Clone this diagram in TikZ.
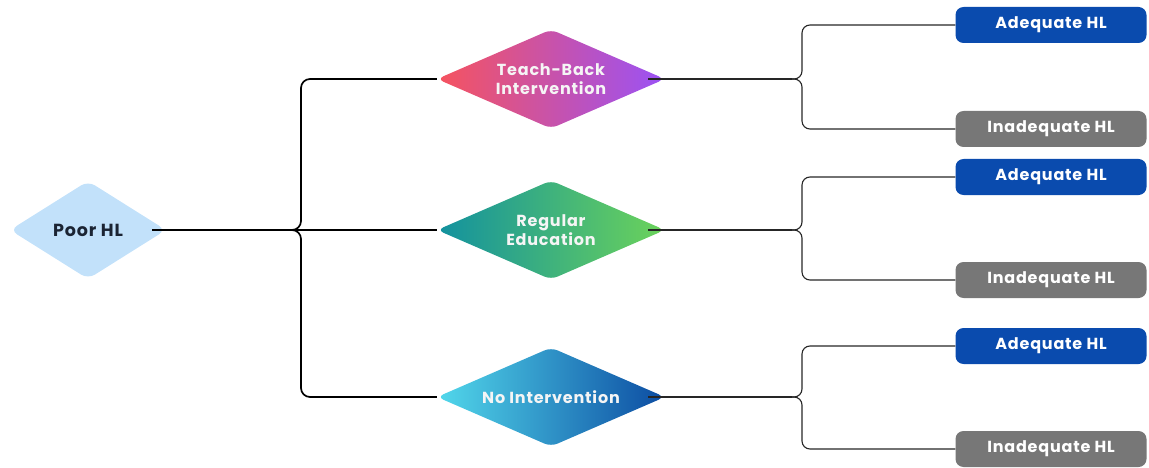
\documentclass[tikz,border=0pt]{standalone}
\usepackage{fontspec}
\setmainfont{Poppins}[LetterSpace=5]
\usetikzlibrary{shapes.geometric,calc}
\definecolor{poorfill}{HTML}{C2E1FA}
\definecolor{poortext}{HTML}{1B2433}
\definecolor{adeq}{HTML}{0A4BAE}
\definecolor{inadeq}{HTML}{777777}
\definecolor{tbL}{HTML}{F6535E}
\definecolor{tbR}{HTML}{9A52F6}
\definecolor{reL}{HTML}{12919F}
\definecolor{reR}{HTML}{6CD35A}
\definecolor{niL}{HTML}{52D8EB}
\definecolor{niR}{HTML}{0C4CA2}
\begin{document}
\begin{tikzpicture}[x=1pt,y=-1pt,
  dia/.style={diamond, aspect=2.3, rounded corners=7pt, inner sep=0pt, minimum width=228pt, minimum height=99pt,
    align=center, font=\bfseries\fontsize{16}{18.5}\selectfont, text=white!96!black},
  outbox/.style={rectangle, rounded corners=8pt, inner sep=0pt, minimum width=191pt, minimum height=36pt,
    font=\bfseries\fontsize{16}{18}\selectfont, text=white},
  mainconn/.style={line width=1.7pt, black, rounded corners=9pt},
  subconn/.style={line width=1.1pt, black!85, rounded corners=8pt}]
\useasboundingbox (0,0) rectangle (1149,468);

% root
\node[diamond, aspect=1.6, rounded corners=8pt, inner sep=0pt, minimum width=156pt, minimum height=98pt,
  fill=poorfill, text=poortext, font=\bfseries\fontsize{17.5}{20}\selectfont] (p) at (88,230) {Poor HL};

% interventions
\node[dia, left color=tbL, right color=tbR] (tb) at (551,79) {Teach-Back\\Intervention};
\node[dia, left color=reL, right color=reR] (re) at (551,230) {Regular\\Education};
\node[dia, left color=niL, right color=niR] (ni) at (551,397) {No Intervention};

% outcomes
\node[outbox, fill=adeq]   (a1) at (1051,25)  {Adequate HL};
\node[outbox, fill=inadeq] (i1) at (1051,129) {Inadequate HL};
\node[outbox, fill=adeq]   (a2) at (1051,177) {Adequate HL};
\node[outbox, fill=inadeq] (i2) at (1051,280) {Inadequate HL};
\node[outbox, fill=adeq]   (a3) at (1051,346) {Adequate HL};
\node[outbox, fill=inadeq] (i3) at (1051,449) {Inadequate HL};

% junction coordinates
\coordinate (j0) at (291,230);
\coordinate (b0) at (301,0);
\coordinate (j1) at ([xshift=127pt]tb.east);
\coordinate (j2) at ([xshift=127pt]re.east);
\coordinate (j3) at ([xshift=127pt]ni.east);
\coordinate (b1) at (802,0);

% first level
\draw[mainconn] ([xshift=-14pt]p.east) -- (j0);
\draw[mainconn] (j0) -| (b0 |- tb.west) -- (tb.west);
\draw[mainconn] (j0) -| (b0 |- ni.west) -- (ni.west);
\draw[mainconn] (j0) -- (re.west);

% second level
\draw[subconn] ([xshift=-17pt]tb.east) -- (j1);
\draw[subconn] (j1) -| (b1 |- a1.west) -- (a1.west);
\draw[subconn] (j1) -| (b1 |- i1.west) -- (i1.west);
\draw[subconn] ([xshift=-17pt]re.east) -- (j2);
\draw[subconn] (j2) -| (b1 |- a2.west) -- (a2.west);
\draw[subconn] (j2) -| (b1 |- i2.west) -- (i2.west);
\draw[subconn] ([xshift=-17pt]ni.east) -- (j3);
\draw[subconn] (j3) -| (b1 |- a3.west) -- (a3.west);
\draw[subconn] (j3) -| (b1 |- i3.west) -- (i3.west);
\end{tikzpicture}
\end{document}
